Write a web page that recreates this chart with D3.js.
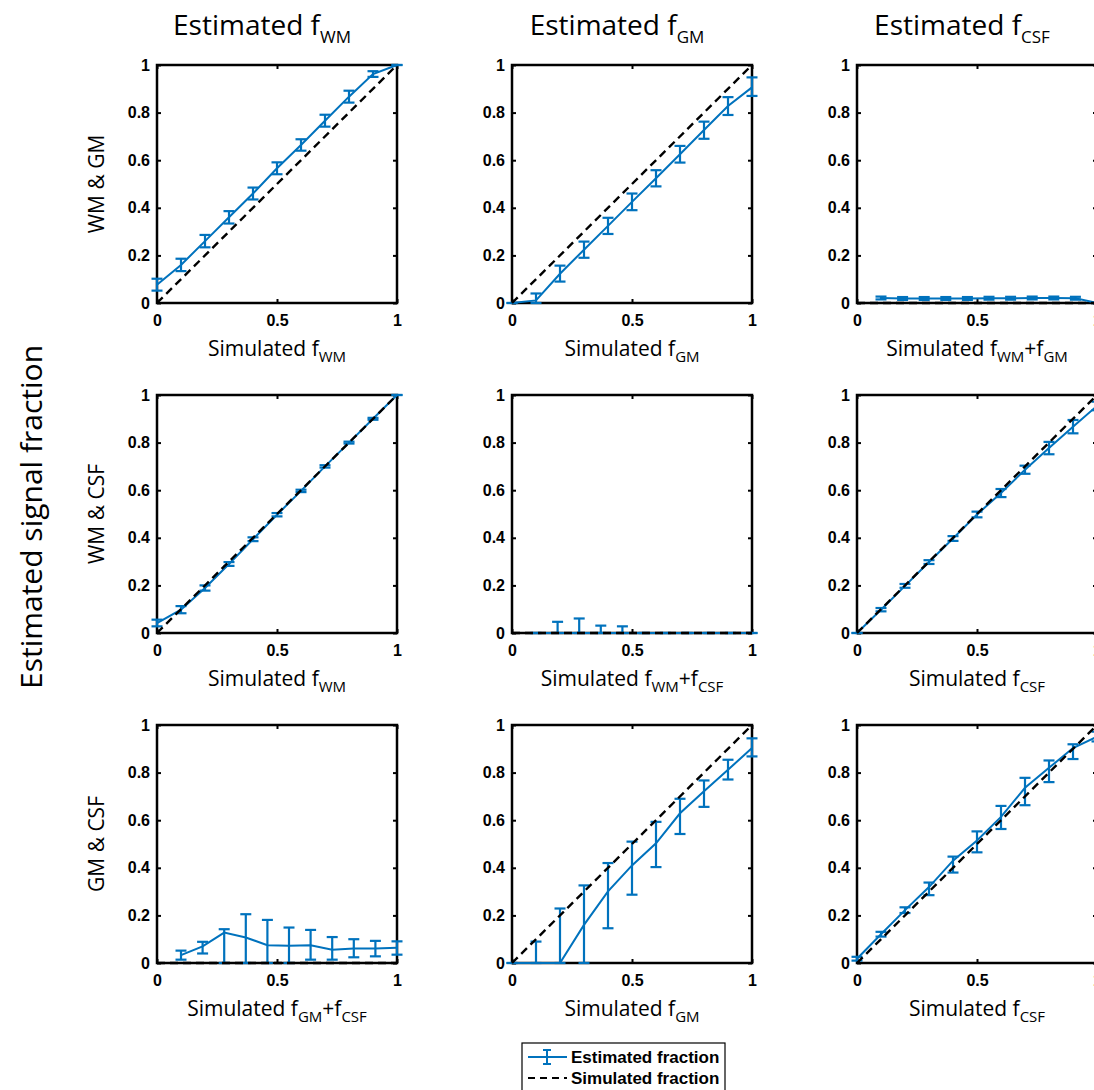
<!DOCTYPE html>
<html>
<head>
<meta charset="utf-8">
<script src="https://cdn.jsdelivr.net/npm/d3@7"></script>
<style>
  body { margin: 0; background: #fff; }
  svg { display: block; }
</style>
</head>
<body>
<svg id="chart" width="1094" height="1090"></svg>
<script>
// x positions used by the panels
const xFull = [0, 0.1, 0.2, 0.3, 0.4, 0.5, 0.6, 0.7, 0.8, 0.9, 1.0];
const xSum = [0.1, 0.19, 0.28, 0.37, 0.46, 0.55, 0.64, 0.73, 0.82, 0.91, 1.0];

// simulated (reference) lines
const simX = [0, 1];
const simDiag = [0, 1];
const simZero = [0, 0];

// row 1: WM & GM
const meanWMGM_WM = [0.077, 0.16, 0.26, 0.36, 0.46, 0.566, 0.664, 0.766, 0.867, 0.962, 1.0];
const loWMGM_WM   = [0.052, 0.134, 0.234, 0.334, 0.435, 0.541, 0.64, 0.741, 0.842, 0.95, 1.0];
const hiWMGM_WM   = [0.102, 0.186, 0.286, 0.386, 0.485, 0.591, 0.688, 0.791, 0.892, 0.974, 1.0];

const meanWMGM_GM = [0, 0.011, 0.123, 0.224, 0.324, 0.425, 0.524, 0.625, 0.727, 0.828, 0.906];
const loWMGM_GM   = [0, 0, 0.09, 0.19, 0.29, 0.39, 0.49, 0.59, 0.69, 0.79, 0.87];
const hiWMGM_GM   = [0, 0.04, 0.157, 0.258, 0.358, 0.46, 0.558, 0.66, 0.762, 0.865, 0.948];

const meanWMGM_CSF = [0.021, 0.019, 0.019, 0.019, 0.019, 0.02, 0.02, 0.021, 0.021, 0.02, 0];
const loWMGM_CSF   = [0.015, 0.013, 0.013, 0.013, 0.013, 0.014, 0.014, 0.015, 0.015, 0.014, 0];
const hiWMGM_CSF   = [0.027, 0.025, 0.025, 0.025, 0.025, 0.026, 0.026, 0.027, 0.027, 0.026, 0];

// row 2: WM & CSF
const meanWMCSF_WM = [0.042, 0.098, 0.189, 0.29, 0.394, 0.497, 0.597, 0.7, 0.8, 0.9, 1.0];
const loWMCSF_WM   = [0.028, 0.083, 0.178, 0.282, 0.386, 0.49, 0.592, 0.695, 0.796, 0.896, 1.0];
const hiWMCSF_WM   = [0.056, 0.113, 0.2, 0.298, 0.402, 0.504, 0.602, 0.705, 0.804, 0.904, 1.0];

const meanWMCSF_GM = [0, 0, 0, 0, 0, 0, 0, 0, 0, 0, 0];
const loWMCSF_GM   = [0, 0, 0, 0, 0, 0, 0, 0, 0, 0, 0];
const hiWMCSF_GM   = [0, 0.047, 0.061, 0.031, 0.028, 0, 0, 0, 0, 0, 0];

const meanWMCSF_CSF = [0, 0.098, 0.198, 0.298, 0.397, 0.498, 0.588, 0.686, 0.777, 0.867, 0.954];
const loWMCSF_CSF   = [0, 0.091, 0.19, 0.29, 0.387, 0.486, 0.571, 0.669, 0.751, 0.839, 0.936];
const hiWMCSF_CSF   = [0, 0.105, 0.206, 0.306, 0.407, 0.51, 0.605, 0.703, 0.803, 0.895, 0.972];

// row 3: GM & CSF
const meanGMCSF_WM = [0.033, 0.07, 0.128, 0.107, 0.075, 0.073, 0.075, 0.056, 0.061, 0.061, 0.064];
const loGMCSF_WM   = [0.014, 0.04, 0, 0, 0, 0, 0.014, 0.014, 0.024, 0.028, 0.035];
const hiGMCSF_WM   = [0.052, 0.089, 0.142, 0.205, 0.181, 0.149, 0.139, 0.109, 0.1, 0.093, 0.091];

const meanGMCSF_GM = [0, 0, 0, 0.16, 0.301, 0.41, 0.503, 0.629, 0.722, 0.812, 0.903];
const loGMCSF_GM   = [0, 0, 0, 0, 0.146, 0.287, 0.403, 0.542, 0.656, 0.771, 0.868];
const hiGMCSF_GM   = [0, 0.09, 0.229, 0.326, 0.42, 0.51, 0.593, 0.69, 0.767, 0.854, 0.944];

const meanGMCSF_CSF = [0.018, 0.121, 0.222, 0.319, 0.43, 0.515, 0.614, 0.736, 0.82, 0.903, 0.951];
const loGMCSF_CSF   = [0.01, 0.111, 0.21, 0.285, 0.38, 0.465, 0.563, 0.663, 0.76, 0.857, 0.931];
const hiGMCSF_CSF   = [0.026, 0.131, 0.234, 0.338, 0.447, 0.553, 0.66, 0.778, 0.851, 0.919, 0.972];

// labels and ticks
const colSubs = ["WM", "GM", "CSF"];
const rowLabels = ["WM & GM", "WM & CSF", "GM & CSF"];
const yTicks = [0, 0.2, 0.4, 0.6, 0.8, 1];
const yTickLabels = ["0", "0.2", "0.4", "0.6", "0.8", "1"];
const xTicks = [0, 0.5, 1];
const xTickLabels = ["0", "0.5", "1"];
const legendLabels = ["Estimated fraction", "Simulated fraction"];

// pieces of each x label: [text, isSubscript]
const xlabWM = [["Simulated f", false], ["WM", true]];
const xlabGM = [["Simulated f", false], ["GM", true]];
const xlabCSF = [["Simulated f", false], ["CSF", true]];
const xlabWMGM = [["Simulated f", false], ["WM", true], ["+f", false], ["GM", true]];
const xlabWMCSF = [["Simulated f", false], ["WM", true], ["+f", false], ["CSF", true]];
const xlabGMCSF = [["Simulated f", false], ["GM", true], ["+f", false], ["CSF", true]];

const panels = [
  {row: 0, col: 0, x: xFull, mean: meanWMGM_WM, lo: loWMGM_WM, hi: hiWMGM_WM, sim: simDiag, xlab: xlabWM},
  {row: 0, col: 1, x: xFull, mean: meanWMGM_GM, lo: loWMGM_GM, hi: hiWMGM_GM, sim: simDiag, xlab: xlabGM},
  {row: 0, col: 2, x: xSum, mean: meanWMGM_CSF, lo: loWMGM_CSF, hi: hiWMGM_CSF, sim: simZero, xlab: xlabWMGM},
  {row: 1, col: 0, x: xFull, mean: meanWMCSF_WM, lo: loWMCSF_WM, hi: hiWMCSF_WM, sim: simDiag, xlab: xlabWM},
  {row: 1, col: 1, x: xSum, mean: meanWMCSF_GM, lo: loWMCSF_GM, hi: hiWMCSF_GM, sim: simZero, xlab: xlabWMCSF},
  {row: 1, col: 2, x: xFull, mean: meanWMCSF_CSF, lo: loWMCSF_CSF, hi: hiWMCSF_CSF, sim: simDiag, xlab: xlabCSF},
  {row: 2, col: 0, x: xSum, mean: meanGMCSF_WM, lo: loGMCSF_WM, hi: hiGMCSF_WM, sim: simZero, xlab: xlabGMCSF},
  {row: 2, col: 1, x: xFull, mean: meanGMCSF_GM, lo: loGMCSF_GM, hi: hiGMCSF_GM, sim: simDiag, xlab: xlabGM},
  {row: 2, col: 2, x: xFull, mean: meanGMCSF_CSF, lo: loGMCSF_CSF, hi: hiGMCSF_CSF, sim: simDiag, xlab: xlabCSF}
];

// layout
const svg = d3.select("#chart");
const colLeft = [157, 512, 857],
      rowTop = [65, 395, 725],
      pw = 240, ph = 238;
const blue = "#0072BD";
const sansFont = "'Open Sans', 'Noto Sans', sans-serif";
const tickFont = "'Liberation Sans', Arial, sans-serif";

// text with subscripts
function richText(sel, parts, size, subSize, shift) {
  let prevSub = false;
  parts.forEach(([t, sub]) => {
    sel.append("tspan")
      .attr("font-size", sub ? subSize : size)
      .attr("dy", sub ? shift : (prevSub ? -shift : 0))
      .text(t);
    prevSub = sub;
  });
}

panels.forEach(p => {
  const g = svg.append("g")
      .attr("transform", `translate(${colLeft[p.col]},${rowTop[p.row]})`);

  const x = d3.scaleLinear().domain([0, 1]).range([0, pw]);
  const y = d3.scaleLinear().domain([0, 1]).range([ph, 0]);

  // inward MATLAB-style ticks on all four sides
  const axes = [
    {ax: d3.axisLeft(y).tickValues(yTicks).tickFormat((d, i) => yTickLabels[i]).tickPadding(7), t: "translate(0,0)"},
    {ax: d3.axisRight(y).tickValues(yTicks).tickFormat(""), t: `translate(${pw},0)`},
    {ax: d3.axisBottom(x).tickValues(xTicks).tickFormat((d, i) => xTickLabels[i]).tickPadding(12), t: `translate(0,${ph})`},
    {ax: d3.axisTop(x).tickValues(xTicks).tickFormat(""), t: "translate(0,0)"}
  ];
  axes.forEach(a => {
    const ag = g.append("g")
        .attr("transform", a.t)
        .call(a.ax.tickSize(-4).tickSizeOuter(0));
    ag.select(".domain").remove();
    ag.selectAll(".tick line").attr("stroke", "#000").attr("stroke-width", 2);
    ag.selectAll(".tick text")
        .attr("font-family", tickFont)
        .attr("font-weight", "bold")
        .attr("font-size", 16)
        .attr("fill", "#000");
  });

  g.append("rect")
      .attr("width", pw).attr("height", ph)
      .attr("fill", "none")
      .attr("stroke", "#000")
      .attr("stroke-width", 2.5);

  // estimated fraction with error bars
  const idx = d3.range(p.x.length);
  const line = d3.line()
      .x(i => x(p.x[i]))
      .y(i => y(p.mean[i]));
  g.append("path")
      .datum(idx)
      .attr("d", line)
      .attr("fill", "none")
      .attr("stroke", blue)
      .attr("stroke-width", 2);

  const eb = g.append("g").attr("stroke", blue).attr("stroke-width", 2.2);
  idx.forEach(i => {
    const cx = x(p.x[i]);
    eb.append("line")
        .attr("x1", cx).attr("x2", cx)
        .attr("y1", y(p.lo[i])).attr("y2", y(p.hi[i]));
    [p.lo[i], p.hi[i]].forEach(v => {
      eb.append("line")
          .attr("x1", cx - 5.5).attr("x2", cx + 5.5)
          .attr("y1", y(v)).attr("y2", y(v));
    });
  });

  // simulated fraction
  g.append("path")
      .datum(d3.range(simX.length))
      .attr("d", d3.line().x(i => x(simX[i])).y(i => y(p.sim[i])))
      .attr("fill", "none")
      .attr("stroke", "#000")
      .attr("stroke-width", 2.4)
      .attr("stroke-dasharray", "8,5");

  // x label
  const xl = g.append("text")
      .attr("x", pw / 2)
      .attr("y", ph + 53)
      .attr("text-anchor", "middle")
      .attr("font-family", sansFont)
      .attr("fill", "#000");
  richText(xl, p.xlab, 21, 15, 6);
});

// column titles
colSubs.forEach((s, c) => {
  const t = svg.append("text")
      .attr("x", colLeft[c] + pw / 2 - 15)
      .attr("y", 35)
      .attr("text-anchor", "middle")
      .attr("font-family", sansFont)
      .attr("fill", "#000");
  richText(t, [["Estimated f", false], [s, true]], 28, 17, 8);
});

// row labels
rowLabels.forEach((r, i) => {
  svg.append("text")
      .attr("transform", `translate(104,${rowTop[i] + ph / 2}) rotate(-90)`)
      .attr("text-anchor", "middle")
      .attr("font-family", sansFont)
      .attr("font-size", 21)
      .attr("fill", "#000")
      .text(r);
});

// overall y label
svg.append("text")
    .attr("transform", "translate(42,517) rotate(-90)")
    .attr("text-anchor", "middle")
    .attr("font-family", sansFont)
    .attr("font-size", 30)
    .attr("fill", "#000")
    .text("Estimated signal fraction");

// legend
const lg = svg.append("g").attr("transform", "translate(522,1043)");
lg.append("rect")
    .attr("width", 203).attr("height", 60)
    .attr("fill", "#fff")
    .attr("stroke", "#000")
    .attr("stroke-width", 1.2);
lg.append("line")
    .attr("x1", 6).attr("x2", 45).attr("y1", 14).attr("y2", 14)
    .attr("stroke", blue).attr("stroke-width", 2);
lg.append("line")
    .attr("x1", 25).attr("x2", 25).attr("y1", 7).attr("y2", 21)
    .attr("stroke", blue).attr("stroke-width", 2);
[7, 21].forEach(v => {
  lg.append("line")
      .attr("x1", 21).attr("x2", 29).attr("y1", v).attr("y2", v)
      .attr("stroke", blue).attr("stroke-width", 2);
});
lg.append("line")
    .attr("x1", 6).attr("x2", 45).attr("y1", 35).attr("y2", 35)
    .attr("stroke", "#000").attr("stroke-width", 2)
    .attr("stroke-dasharray", "7,5");
legendLabels.forEach((l, i) => {
  lg.append("text")
      .attr("x", 49)
      .attr("y", 20 + i * 21)
      .attr("font-family", tickFont)
      .attr("font-weight", "bold")
      .attr("font-size", 17)
      .attr("fill", "#000")
      .text(l);
});
</script>
</body>
</html>
